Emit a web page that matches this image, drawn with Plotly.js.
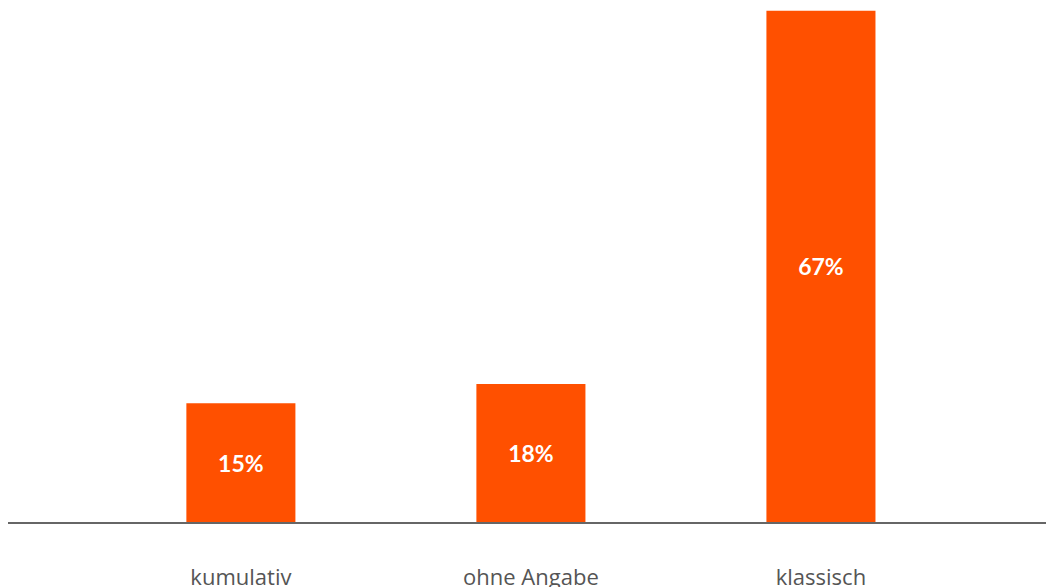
<!DOCTYPE html>
<html>
<head>
<meta charset="utf-8">
<script src="https://cdn.plot.ly/plotly-3.0.1.min.js"></script>
<style>html,body{margin:0;padding:0;background:#fff;}#chart{width:1046px;height:587px;}</style>
</head>
<body>
<div id="chart"></div>
<script>
const categories = ["kumulativ", "ohne Angabe", "klassisch"];
const values = [15.5, 18.0, 66.7];
const valueLabels = ["15%", "18%", "67%"];

const trace = {
  type: "bar",
  x: categories,
  y: values,
  text: valueLabels,
  textposition: "inside",
  insidetextanchor: "middle",
  textangle: 0,
  textfont: {family: "Lato, 'Open Sans', sans-serif", size: 23, color: "#ffffff", weight: "bold"},
  marker: {color: "#FF5000"},
  width: 0.376,
  hoverinfo: "none"
};

const layout = {
  width: 1046, height: 587,
  margin: {l: 8, r: 0, t: 0, b: 65},
  paper_bgcolor: "#ffffff",
  plot_bgcolor: "#ffffff",
  showlegend: false,
  xaxis: {
    type: "category",
    range: [-0.803, 2.776],
    showline: true, linecolor: "#666666", linewidth: 2,
    showgrid: false, zeroline: false, ticks: "",
    ticklabelstandoff: 35,
    tickfont: {family: "'Open Sans', sans-serif", size: 22, color: "#555555"}
  },
  yaxis: {
    range: [0, 68.1],
    visible: false, showgrid: false, zeroline: false
  }
};

Plotly.newPlot("chart", [trace], layout, {displayModeBar: false, staticPlot: true});
</script>
</body>
</html>
